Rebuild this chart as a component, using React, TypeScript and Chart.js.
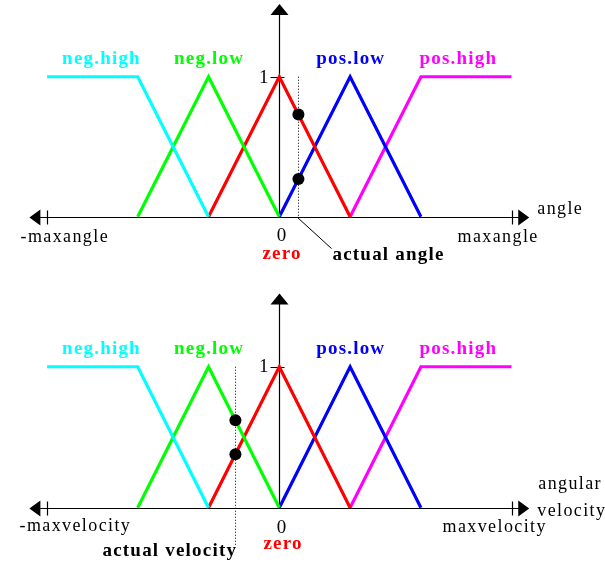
import React, { useEffect, useRef } from "react";
import { Chart, registerables } from "chart.js";

Chart.register(...registerables);

// Normalised universe of discourse: ±maxInput is the "max" tick, arrows run a bit further
const maxInput = 3.28;
const arrowExtent = 3.53;
const arrowTop = 1.52;

// Fuzzy sets as [input, membership] breakpoints
const setNames = ["neg.high", "neg.low", "zero", "pos.low", "pos.high"];
const negHigh = [[-3.28, 1], [-2, 1], [-1, 0]];
const negLow = [[-2, 0], [-1, 1], [0, 0]];
const zeroSet = [[-1, 0], [0, 1], [1, 0]];
const posLow = [[0, 0], [1, 1], [2, 0]];
const posHigh = [[1, 0], [2, 1], [3.28, 1]];
const setShapes = [negHigh, negLow, zeroSet, posLow, posHigh];
const setColors = ["#00FFFF", "#00FF00", "#FF0000", "#0000FF", "#FF00FF"];

// Crisp inputs and the membership degrees they fire
const actualAngle = 0.27;
const angleDegrees = [0.73, 0.27]; // zero, pos.low
const actualVelocity = -0.62;
const velocityDegrees = [0.62, 0.38]; // neg.low, zero

type Anchor = "min" | "max" | "tip" | "zero" | "actual";
type TextItem = {
  text: string;
  at: Anchor;
  dx: number;
  dy: number;
  align: CanvasTextAlign;
  bold?: boolean;
  color?: string;
  size?: number;
};

type PanelCfg = {
  yMin: number;
  yMax: number;
  actual: number;
  degrees: number[];
  guideBelow: number;
  leader: boolean;
  oneDy: number;
  texts: TextItem[];
};

const SERIF = '"Liberation Serif", "Times New Roman", serif';

function drawText(ctx: CanvasRenderingContext2D, t: TextItem, x: number, y: number) {
  const spacing = t.bold ? 1.2 : 1.4;
  ctx.font = `${t.bold ? "bold " : ""}${t.size ?? (t.bold ? 19 : 18)}px ${SERIF}`;
  (ctx as any).letterSpacing = `${spacing}px`;
  ctx.fillStyle = t.color ?? "#000";
  ctx.textAlign = t.align;
  ctx.textBaseline = "alphabetic";
  let xx = x;
  if (t.align === "center") xx += spacing / 2;
  if (t.align === "right") xx += spacing;
  ctx.fillText(t.text, xx, y);
  (ctx as any).letterSpacing = "0px";
}

const fuzzyAxes = {
  id: "fuzzyAxes",
  beforeDatasetsDraw(chart: any, _args: any, opts: any) {
    const cfg: PanelCfg = opts.cfg;
    const { ctx } = chart;
    const xs = chart.scales.x;
    const ys = chart.scales.y;
    const px = (v: number) => xs.getPixelForValue(v);
    const py = (v: number) => ys.getPixelForValue(v);
    const crisp = (v: number) => Math.round(v) + 0.5;

    const x0 = crisp(px(0));
    const y0 = crisp(py(0));
    const y1 = py(1);
    const xl = px(-arrowExtent);
    const xr = px(arrowExtent);
    const xmn = crisp(px(-maxInput));
    const xmx = crisp(px(maxInput));
    const yt = py(arrowTop);
    const xa = crisp(px(cfg.actual));

    ctx.save();
    ctx.strokeStyle = "#000";
    ctx.fillStyle = "#000";
    ctx.lineWidth = 1.2;

    // axes
    ctx.beginPath();
    ctx.moveTo(xl + 4, y0);
    ctx.lineTo(xr - 4, y0);
    ctx.moveTo(x0, y0);
    ctx.lineTo(x0, yt + 4);
    // ±max ticks
    ctx.moveTo(xmn, y0 - 7);
    ctx.lineTo(xmn, y0 + 7);
    ctx.moveTo(xmx, y0 - 7);
    ctx.lineTo(xmx, y0 + 7);
    // membership 1 tick
    ctx.moveTo(x0 - 9, crisp(y1));
    ctx.lineTo(x0 + 5, crisp(y1));
    ctx.stroke();

    // arrowheads
    ctx.beginPath();
    ctx.moveTo(xl, y0);
    ctx.lineTo(xl + 11, y0 - 8);
    ctx.lineTo(xl + 11, y0 + 8);
    ctx.closePath();
    ctx.moveTo(xr, y0);
    ctx.lineTo(xr - 11, y0 - 8);
    ctx.lineTo(xr - 11, y0 + 8);
    ctx.closePath();
    ctx.moveTo(x0, yt);
    ctx.lineTo(x0 - 9, yt + 11);
    ctx.lineTo(x0 + 9, yt + 11);
    ctx.closePath();
    ctx.fill();

    // dotted guide through the crisp input
    ctx.save();
    ctx.lineWidth = 1;
    ctx.setLineDash([1, 2]);
    ctx.beginPath();
    ctx.moveTo(xa, y1);
    ctx.lineTo(xa, y0 + cfg.guideBelow);
    ctx.stroke();
    ctx.restore();

    if (cfg.leader) {
      ctx.lineWidth = 1;
      ctx.beginPath();
      ctx.moveTo(xa - 1, y0);
      ctx.lineTo(xa + 33, y0 + 31);
      ctx.stroke();
    }

    // "1" on the membership axis
    drawText(ctx, { text: "1", at: "zero", dx: 0, dy: 0, align: "right", size: 19 }, x0 - 11, y1 + cfg.oneDy);

    // fuzzy set names above their cores
    const labelAt = [-2.52, -1, 0, 1, 2.52];
    setNames.forEach((name, i) => {
      if (name === "zero") return;
      drawText(
        ctx,
        { text: name, at: "zero", dx: 0, dy: 0, align: "center", bold: true, color: setColors[i] },
        px(labelAt[i]),
        y1 - 12.7
      );
    });

    const anchors: Record<Anchor, number> = {
      min: xmn,
      max: xmx,
      tip: xr,
      zero: x0,
      actual: xa,
    };
    cfg.texts.forEach((t) => drawText(ctx, t, anchors[t.at] + t.dx, y0 + t.dy));

    ctx.restore();
  },
};

const angleCfg: PanelCfg = {
  yMin: -0.466,
  yMax: 1.548,
  actual: actualAngle,
  degrees: angleDegrees,
  guideBelow: 0,
  leader: true,
  oneDy: 6,
  texts: [
    { text: "-maxangle", at: "min", dx: -27, dy: 24, align: "left" },
    { text: "maxangle", at: "max", dx: -55, dy: 24, align: "left" },
    { text: "angle", at: "tip", dx: 8, dy: -4, align: "left" },
    { text: "0", at: "zero", dx: 2, dy: 23, align: "center", size: 19 },
    { text: "zero", at: "zero", dx: 2, dy: 41, align: "center", bold: true, color: "#FF0000" },
    { text: "actual angle", at: "actual", dx: 34, dy: 42, align: "left", bold: true },
  ],
};

const velocityCfg: PanelCfg = {
  yMin: -0.399,
  yMax: 1.601,
  actual: actualVelocity,
  degrees: velocityDegrees,
  guideBelow: 37,
  leader: false,
  oneDy: 5.5,
  texts: [
    { text: "-maxvelocity", at: "min", dx: -28, dy: 22.5, align: "left" },
    { text: "maxvelocity", at: "max", dx: -70, dy: 23.5, align: "left" },
    { text: "angular", at: "tip", dx: 9, dy: -20, align: "left" },
    { text: "velocity", at: "tip", dx: 8, dy: 7, align: "left" },
    { text: "0", at: "zero", dx: 2, dy: 24, align: "center", size: 19 },
    { text: "zero", at: "zero", dx: 3, dy: 40, align: "center", bold: true, color: "#FF0000" },
    { text: "actual velocity", at: "actual", dx: -133, dy: 47, align: "left", bold: true },
  ],
};

const X_MIN = -3.945;
const X_MAX = 4.6;

function FuzzyPanel({ cfg }: { cfg: PanelCfg }) {
  const ref = useRef<HTMLCanvasElement>(null);

  useEffect(() => {
    if (!ref.current) return;
    const setDatasets = setShapes.map((shape, i) => ({
      label: setNames[i],
      data: shape.map(([x, y]) => ({ x, y })),
      showLine: true,
      borderColor: setColors[i],
      backgroundColor: setColors[i],
      borderWidth: 3.2,
      borderJoinStyle: "miter" as const,
      borderCapStyle: "butt" as const,
      pointRadius: 0,
      fill: false,
      order: 1,
    }));
    const dots = {
      label: "fired",
      data: cfg.degrees.map((d) => ({ x: cfg.actual, y: d })),
      showLine: false,
      pointRadius: 6,
      pointBackgroundColor: "#000",
      pointBorderColor: "#000",
      pointBorderWidth: 0,
      order: 0,
    };
    const chart = new Chart(ref.current, {
      type: "scatter",
      data: { datasets: [dots, ...setDatasets] as any },
      options: {
        animation: false,
        responsive: false,
        maintainAspectRatio: false,
        devicePixelRatio: 1,
        events: [],
        layout: { padding: 0, autoPadding: false } as any,
        scales: {
          x: { type: "linear", min: X_MIN, max: X_MAX, display: false },
          y: { type: "linear", min: cfg.yMin, max: cfg.yMax, display: false },
        },
        plugins: {
          legend: { display: false },
          tooltip: { enabled: false },
          fuzzyAxes: { cfg },
        } as any,
      },
      plugins: [fuzzyAxes],
    });
    return () => chart.destroy();
  }, [cfg]);

  return (
    <canvas
      ref={ref}
      width={605}
      height={282}
      style={{ display: "block", width: 605, height: 282 }}
    />
  );
}

export default function App() {
  return (
    <div
      style={{
        position: "fixed",
        left: 0,
        top: 0,
        width: 605,
        height: 564,
        background: "#fff",
      }}
    >
      <FuzzyPanel cfg={angleCfg} />
      <FuzzyPanel cfg={velocityCfg} />
    </div>
  );
}
